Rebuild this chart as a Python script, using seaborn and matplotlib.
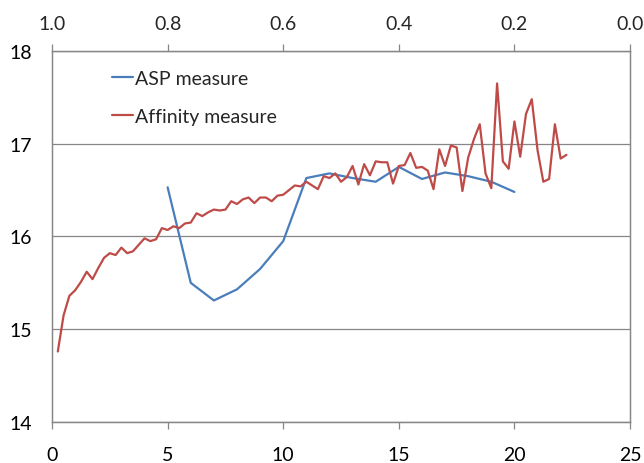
import matplotlib
matplotlib.use("Agg")
import matplotlib.pyplot as plt
import seaborn as sns
import pandas as pd

asp_x = [5, 6, 7, 8, 9, 10, 11, 12, 13, 14, 15, 16, 17, 18, 19, 20]
asp_y = [16.53, 15.50, 15.31, 15.43, 15.65, 15.95, 16.63, 16.68, 16.63, 16.59,
         16.75, 16.62, 16.69, 16.65, 16.59, 16.48]

aff_x = [0.25 * (i + 1) for i in range(89)]
aff_y = [14.76, 15.15, 15.36, 15.42, 15.51, 15.62, 15.54, 15.66, 15.77, 15.82,
         15.80, 15.88, 15.82, 15.84, 15.91, 15.98, 15.95, 15.97, 16.09, 16.07,
         16.11, 16.09, 16.14, 16.15, 16.25, 16.22, 16.26, 16.29, 16.28, 16.29,
         16.38, 16.35, 16.40, 16.42, 16.36, 16.42, 16.42, 16.38, 16.44, 16.45,
         16.50, 16.55, 16.54, 16.59, 16.55, 16.51, 16.65, 16.63, 16.68, 16.59,
         16.64, 16.76, 16.56, 16.78, 16.66, 16.81, 16.80, 16.80, 16.57, 16.76,
         16.77, 16.90, 16.74, 16.75, 16.71, 16.51, 16.94, 16.76, 16.98, 16.96,
         16.49, 16.85, 17.05, 17.21, 16.68, 16.52, 17.65, 16.81, 16.73, 17.24,
         16.86, 17.32, 17.48, 16.93, 16.59, 16.62, 17.21, 16.84, 16.88]

x_ticks = [0, 5, 10, 15, 20, 25]
y_ticks = [14, 15, 16, 17, 18]
top_ticks = [1.0, 0.8, 0.6, 0.4, 0.2, 0.0]
series_names = ["ASP measure", "Affinity measure"]

sns.set_style("white")
plt.rcParams["font.family"] = ["Lato", "DejaVu Sans"]

df = pd.concat([
    pd.DataFrame({"x": asp_x, "y": asp_y, "series": series_names[0]}),
    pd.DataFrame({"x": aff_x, "y": aff_y, "series": series_names[1]}),
])

fig = plt.figure(figsize=(6.44, 4.64), dpi=100)
ax = fig.add_axes([0.0808, 0.0884, 0.8975, 0.7996])
grey = "#868686"

sns.lineplot(data=df, x="x", y="y", hue="series", sort=False,
             palette=["#4A7EBB", "#BE4B48"], linewidth=1.6, ax=ax)

ax.set_xlim(0, 25)
ax.set_ylim(14, 18)
ax.set_xticks(x_ticks)
ax.set_yticks(y_ticks)
ax.set_xlabel("")
ax.set_ylabel("")
ax.yaxis.grid(True, color=grey, linewidth=0.9)
ax.xaxis.grid(False)
for s in ax.spines.values():
    s.set_color(grey)
    s.set_linewidth(0.9)
ax.tick_params(axis="both", direction="out", length=5, width=0.9, color=grey,
               labelsize=14, labelcolor="#000000")
ax.tick_params(axis="x", pad=12)
ax.tick_params(axis="y", pad=9.5)

ax2 = ax.twiny()
ax2.set_xlim(1.0, 0.0)
ax2.set_xticks(top_ticks)
ax2.set_xticklabels([f"{t:.1f}" for t in top_ticks])
for s in ax2.spines.values():
    s.set_color(grey)
    s.set_linewidth(0.9)
ax2.tick_params(axis="x", direction="out", length=5, width=0.9, color=grey,
                labelsize=14, pad=8.5)

leg = ax.legend(loc="upper left", bbox_to_anchor=(0.104, 0.948), frameon=False,
                fontsize=14, handlelength=1.05, handletextpad=0.12,
                labelspacing=1.05, borderpad=0, borderaxespad=0)

fig.savefig("out.png", dpi=100)
